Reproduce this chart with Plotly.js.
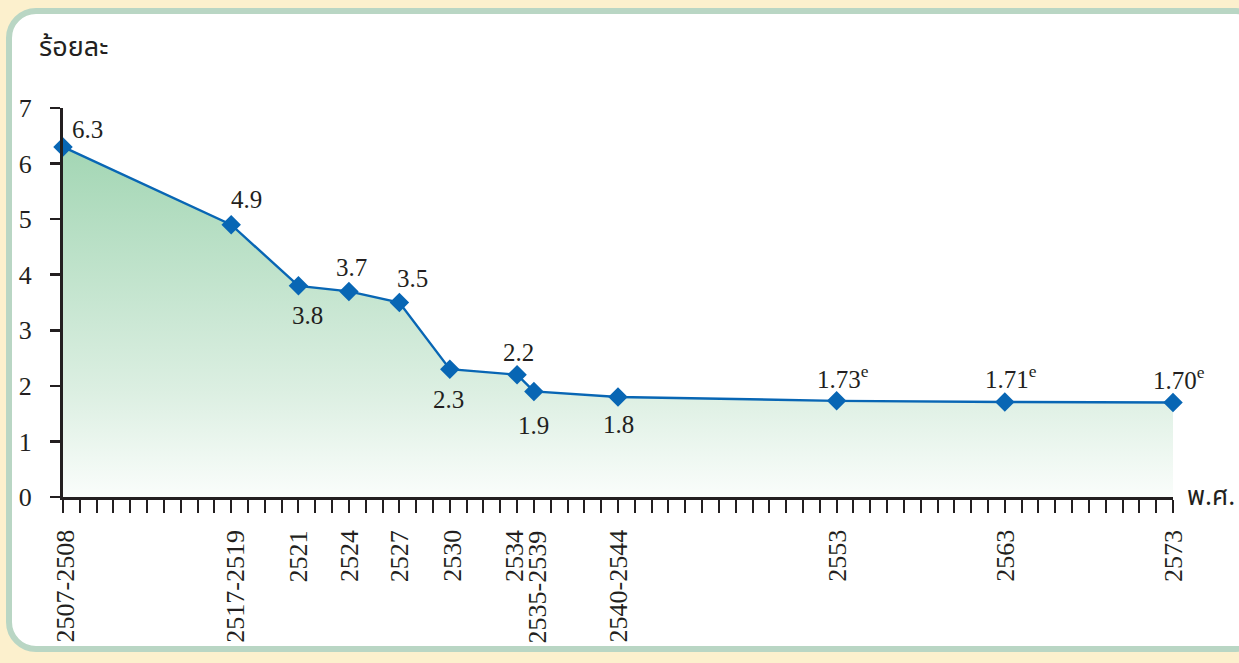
<!DOCTYPE html>
<html>
<head>
<meta charset="utf-8">
<script src="https://cdn.plot.ly/plotly-3.0.1.min.js"></script>
<style>
  html, body { margin: 0; padding: 0; }
  body { width: 1239px; height: 663px; background: #fcf0cd; position: relative; overflow: hidden; }
  #panel {
    position: absolute; left: 6px; top: 8px; width: 1260px; height: 644px;
    background: #ffffff; border: 6px solid #b9d6c4; border-radius: 30px; box-sizing: border-box;
  }
  #chart { position: absolute; left: 0; top: 0; width: 1239px; height: 663px; }
</style>
</head>
<body>
<div id="panel"></div>
<div id="chart"></div>
<script>
// Total fertility rate (ร้อยละ) by Buddhist-era year (พ.ศ.)
const years      = [2507, 2517, 2521, 2524, 2527, 2530, 2534, 2535, 2540, 2553, 2563, 2573];
const yearLabels = ['2507-2508', '2517-2519', '2521', '2524', '2527', '2530', '2534',
                    '2535-2539', '2540-2544', '2553', '2563', '2573'];
const rates      = [6.3, 4.9, 3.8, 3.7, 3.5, 2.3, 2.2, 1.9, 1.8, 1.73, 1.71, 1.70];
const decimals   = [1, 1, 1, 1, 1, 1, 1, 1, 1, 2, 2, 2];
const estimated  = [false, false, false, false, false, false, false, false, false, true, true, true];

// Pixel nudges for the value labels (right, up) and for the crowded year labels
const valueLabelShift = [[24, 17], [15, 25], [9, -30], [3, 24], [13, 24], [-1, -30],
                         [1, 22], [0, -34], [0, -28], [6, 24], [6, 25], [6, 25]];
const yearLabelShift  = [2, 4, 0, 0, 0, 2, -3, 4, 0, 0, 0, 0];

const serif = 'Liberation Serif, Times New Roman, serif';
const thai = 'Noto Sans Thai, Loma, Garuda, Noto Sans, sans-serif';
const ink = '#231f20';
const blue = '#0866b4';

const pointText = rates.map((v, i) => v.toFixed(decimals[i]) + (estimated[i] ? '<sup>e</sup>' : ''));

const trace = {
  x: years,
  y: rates,
  type: 'scatter',
  mode: 'lines+markers',
  fill: 'tozeroy',
  fillgradient: {
    type: 'vertical',
    colorscale: [[0, 'rgba(250,253,251,1)'], [0.3, '#dcefe2'], [1, '#a3d6b4']]
  },
  line: { color: blue, width: 2.4 },
  marker: { symbol: 'diamond', size: 15, color: blue },
  cliponaxis: false,
  hoverinfo: 'skip'
};

const valueAnnotations = rates.map((v, i) => ({
  x: years[i], y: v, xref: 'x', yref: 'y',
  text: pointText[i], showarrow: false,
  xanchor: 'center', yanchor: 'middle',
  xshift: valueLabelShift[i][0], yshift: valueLabelShift[i][1],
  font: { family: serif, size: 25, color: ink }
}));

const yearAnnotations = years.map((yr, i) => ({
  x: yr, y: 0, xref: 'x', yref: 'y',
  text: yearLabels[i], showarrow: false, textangle: -90,
  xanchor: 'center', yanchor: 'top',
  xshift: yearLabelShift[i], yshift: -31,
  font: { family: serif, size: 26, color: ink }
}));

const layout = {
  width: 1239,
  height: 663,
  margin: { l: 63, r: 66, t: 108, b: 166 },
  paper_bgcolor: 'rgba(0,0,0,0)',
  plot_bgcolor: 'rgba(0,0,0,0)',
  showlegend: false,
  xaxis: {
    range: [2507, 2573],
    showgrid: false,
    zeroline: false,
    showline: true,
    linecolor: ink,
    linewidth: 3,
    ticks: 'outside',
    tick0: 2507,
    dtick: 1,
    ticklen: 13,
    tickwidth: 2,
    tickcolor: ink,
    showticklabels: false
  },
  yaxis: {
    range: [0, 7],
    dtick: 1,
    tick0: 0,
    showgrid: false,
    zeroline: false,
    showline: true,
    linecolor: ink,
    linewidth: 3,
    ticks: 'outside',
    ticklen: 10,
    tickwidth: 2.5,
    tickcolor: ink,
    tickfont: { family: serif, size: 26, color: ink },
    ticklabelstandoff: 13
  },
  annotations: valueAnnotations.concat(yearAnnotations, [
    {
      xref: 'paper', yref: 'paper', x: -0.023, y: 1.155, xanchor: 'left', yanchor: 'middle',
      text: 'ร้อยละ', showarrow: false,
      font: { family: thai, size: 27, color: ink }
    },
    {
      xref: 'paper', yref: 'paper', x: 1.011, y: 0, xanchor: 'left', yanchor: 'middle',
      text: 'พ.ศ.', showarrow: false,
      font: { family: thai, size: 26, color: ink }
    }
  ])
};

Plotly.newPlot('chart', [trace], layout, { displayModeBar: false, staticPlot: true });
</script>
</body>
</html>
